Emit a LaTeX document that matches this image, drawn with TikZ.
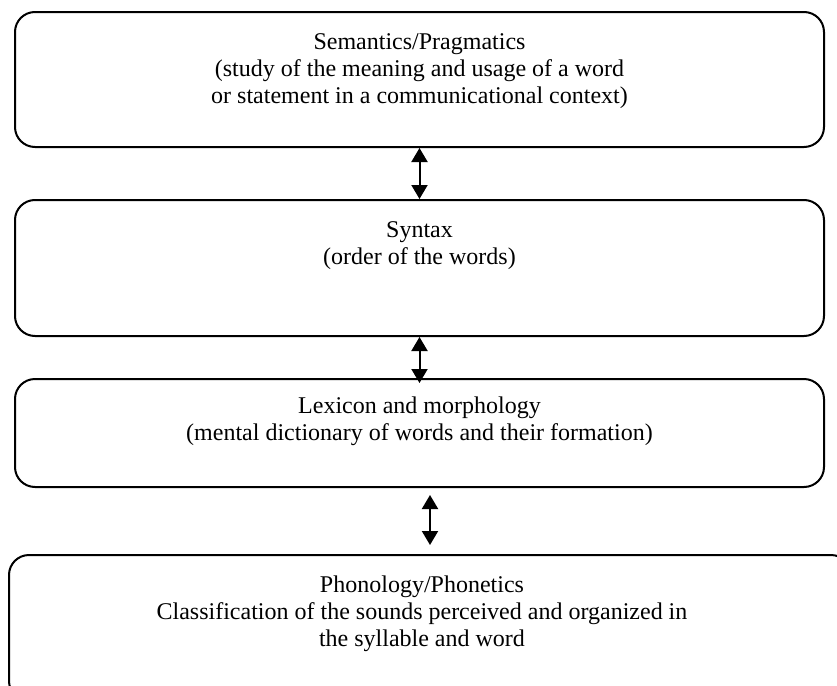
\documentclass[tikz,border=0pt]{standalone}
\usepackage{fontspec}
\setmainfont{Liberation Serif}
\usetikzlibrary{positioning,arrows.meta}

\tikzset{
  layer/.style={draw, line width=1pt, rounded corners=10pt, inner sep=0pt, anchor=north west},
  layertext/.style={align=center, inner sep=0pt, font=\fontsize{12}{13.5}\selectfont},
}

\begin{document}
\begin{tikzpicture}[x=0.5pt, y=-0.5pt, line join=round, >={Triangle[length=7pt,width=8pt]}]
  \useasboundingbox (0,0) rectangle (837,686);
  \clip (0,0) rectangle (837,686);

  % the four levels
  \node[layer, minimum width=404.5pt, minimum height=67.5pt] (sem) at (14,11) {};
  \node[layer, minimum width=404.5pt, minimum height=68pt] (syn) at (14,199) {};
  \node[layer, minimum width=404.5pt, minimum height=54pt] (lex) at (14,378) {};
  \node[layer, minimum width=421pt, minimum height=73pt] (phon) at (8,554) {};

  \node[layertext, below=11pt of sem.north] (semtxt) {Semantics/Pragmatics\\(study of the meaning and usage of a word\\or statement in a communicational context)};
  \node[layertext, below=11.3pt of syn.north] (syntxt) {Syntax\\(order of the words)};
  \node[layertext, below=9.3pt of lex.north] (lextxt) {Lexicon and morphology\\(mental dictionary of words and their formation)};
  \node[layertext, below=10.8pt of phon.north, xshift=-4pt] (phontxt) {Phonology/Phonetics\\Classification of the sounds perceived and organized in\\the syllable and word};

  % arrows between levels
  \draw[<->, line width=1pt] (sem.south) -- (syn.north);
  \draw[<->, line width=1pt, shorten >=-2.5pt] (syn.south) -- (lex.north);
  \draw[<->, line width=1pt, shorten <=3.5pt, shorten >=4.5pt] (lex.south -| phon.north) -- (phon.north);
\end{tikzpicture}
\end{document}
